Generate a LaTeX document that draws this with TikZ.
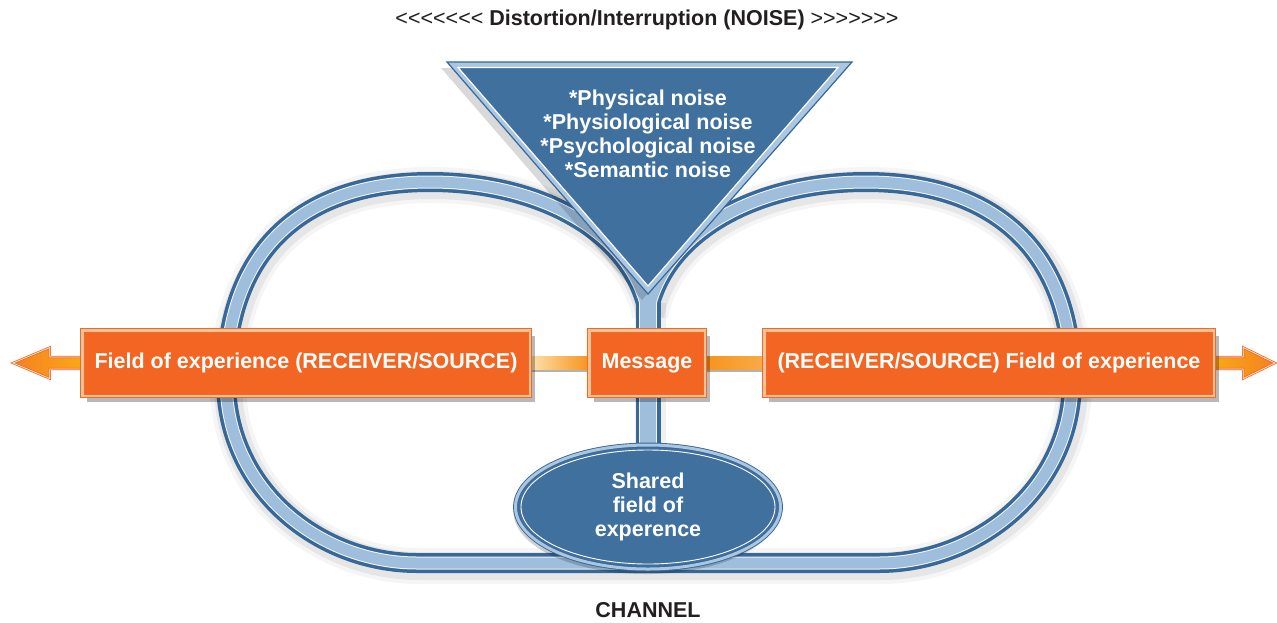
\documentclass[tikz,border=0pt]{standalone}
\usepackage{fontspec}
\newfontfamily\lsans{Liberation Sans}
\usetikzlibrary{shapes.geometric,shadows,calc}
\pgfdeclarelayer{back}
\pgfdeclarelayer{mid}
\pgfsetlayers{back,mid,main}
\definecolor{tubeDark}{RGB}{55,104,152}
\definecolor{tubeLight}{RGB}{158,190,219}
\definecolor{triBlue}{RGB}{64,112,158}
\definecolor{triRim}{RGB}{170,198,224}
\definecolor{boxFill}{RGB}{242,101,34}
\definecolor{boxEdge}{RGB}{241,106,40}
\definecolor{boxPale}{RGB}{250,192,150}
\definecolor{barPale}{RGB}{253,225,170}
\definecolor{barOrange}{RGB}{247,148,29}
\definecolor{arrowOrange}{RGB}{245,128,32}
\definecolor{inkDark}{RGB}{35,31,32}
\def\tubepath{(648,312) .. controls (632,232) and (540,182) .. (430,182) .. controls (295,182) and (226,258) .. (226,380) .. controls (226,490) and (320,563) .. (417,563) -- (879,563) .. controls (976,563) and (1072,490) .. (1072,380) .. controls (1072,258) and (1001,182) .. (866,182) .. controls (756,182) and (664,232) .. (648,312)}
\def\stempath{(648,300) -- (648,460)}
\begin{document}
\begin{tikzpicture}[x=1pt,y=-1pt,
  lbl/.style={font=\lsans\bfseries\fontsize{21.5}{24}\selectfont},
  obox/.style={lbl, text=white, fill=boxFill, draw=boxEdge, double=boxPale,
    double distance=2.5pt, line width=1pt, inner sep=0pt, minimum height=65.5pt,
    drop shadow={shadow xshift=5pt, shadow yshift=-6pt, opacity=.28, fill=black}},
  ellnode/.style={ellipse, lbl, text=white, align=center, fill=triBlue,
    draw=tubeDark, double=triRim, double distance=3pt, line width=.9pt,
    minimum width=265pt, minimum height=124pt, inner sep=0pt,
    drop shadow={shadow xshift=-2pt, shadow yshift=-5pt, opacity=.18, fill=black}},
  arrowsty/.style={draw=boxEdge, double=white!85!orange, double distance=.7pt,
    line width=.8pt, line join=miter},
  tubeline/.style={line join=round, line cap=butt}
]
\useasboundingbox (0,0) rectangle (1277,622);

% ---------- nodes ----------
\node[obox, minimum width=447.5pt] (fl) at (306,363) {Field of experience (RECEIVER/SOURCE)};
\node[obox, minimum width=115.5pt] (msg) at (647,363) {Message};
\node[obox, minimum width=449.5pt] (fr) at (989,363) {(RECEIVER/SOURCE) Field of experience};
\node[ellnode] (sh) at (648,507) {Shared\\field of\\experence};
\draw[white, line width=.9pt] (sh.center) ellipse [x radius=127pt, y radius=57pt];
\node[lbl, text=white, align=center] (noise) at (648,134)
  {*Physical noise\\*Physiological noise\\*Psychological noise\\*Semantic noise};
\node[lbl, text=inkDark] (title) at (647,20)
  {{\mdseries <<<<<<<} Distortion/Interruption (NOISE) {\mdseries >>>>>>>}};
\node[lbl, text=inkDark] (chan) at (648,610) {CHANNEL};
\coordinate (ltip) at (13,363);
\coordinate (rtip) at (1275,363);

% ---------- channel tube and noise triangle ----------
\begin{pgfonlayer}{back}
  \fill[white] (0,0) rectangle (1277,622);
  \begin{scope}[xshift=2pt, yshift=-3pt]
    \draw[tubeline, black, opacity=.04, line width=36pt] \tubepath;
    \draw[tubeline, black, opacity=.06, line width=28pt] \tubepath;
    \draw[tubeline, black, opacity=.06, line width=31pt] \stempath;
  \end{scope}
  \draw[tubeline, tubeDark, line width=20pt] \tubepath;
  \draw[tubeline, tubeDark, line width=25pt] \stempath;
  \draw[tubeline, white!85!tubeLight, line width=13pt] \tubepath;
  \draw[tubeline, white!85!tubeLight, line width=18pt] \stempath;
  \draw[tubeline, tubeLight, line width=11pt] \tubepath;
  \draw[tubeline, tubeLight, line width=16pt] \stempath;
  % web between the two arms where they join the stem
  \fill[tubeLight] (629,256) -- (667,256) -- (648,318) -- cycle;
  % triangle
  \fill[black, opacity=.15] (441,68) -- (846,68) -- (642,300) -- cycle;
  \filldraw[fill=triRim, draw=tubeDark, line width=1.2pt, line join=miter]
    (447,62) -- (852,62) -- (648,294) -- cycle;
  \filldraw[fill=triBlue, draw=white, line width=1.2pt, line join=miter]
    (458,67.5) -- (838,67.5) -- (648,286) -- cycle;
\end{pgfonlayer}

% ---------- connectors and arrows ----------
\begin{pgfonlayer}{mid}
  \fill[black, opacity=.3] ($(fl.east)+(0,6.5)$) rectangle ($(msg.west)+(0,8.5)$);
  \fill[black, opacity=.3] ($(msg.east)+(0,6.5)$) rectangle ($(fr.west)+(0,8.5)$);
  \shade[left color=barPale, right color=barOrange]
    ($(fl.east)+(0,-6.5)$) rectangle ($(msg.west)+(0,6.5)$);
  \shade[left color=barOrange, right color=barOrange!70!barPale]
    ($(msg.east)+(0,-6.5)$) rectangle ($(fr.west)+(0,6.5)$);
  \path[arrowsty, left color=arrowOrange, right color=barOrange!80!yellow]
    ($(fl.west)+(2,-6)$) -- ($(fl.west)+(-32,-6)$) -- ($(fl.west)+(-32,-15.5)$)
    -- (ltip) -- ($(fl.west)+(-32,15.5)$) -- ($(fl.west)+(-32,6)$)
    -- ($(fl.west)+(2,6)$);
  \path[arrowsty, left color=barOrange!80!yellow, right color=arrowOrange]
    ($(fr.east)+(-2,-6)$) -- ($(fr.east)+(29,-6)$) -- ($(fr.east)+(29,-15.5)$)
    -- (rtip) -- ($(fr.east)+(29,15.5)$) -- ($(fr.east)+(29,6)$)
    -- ($(fr.east)+(-2,6)$);
\end{pgfonlayer}
\end{tikzpicture}
\end{document}
